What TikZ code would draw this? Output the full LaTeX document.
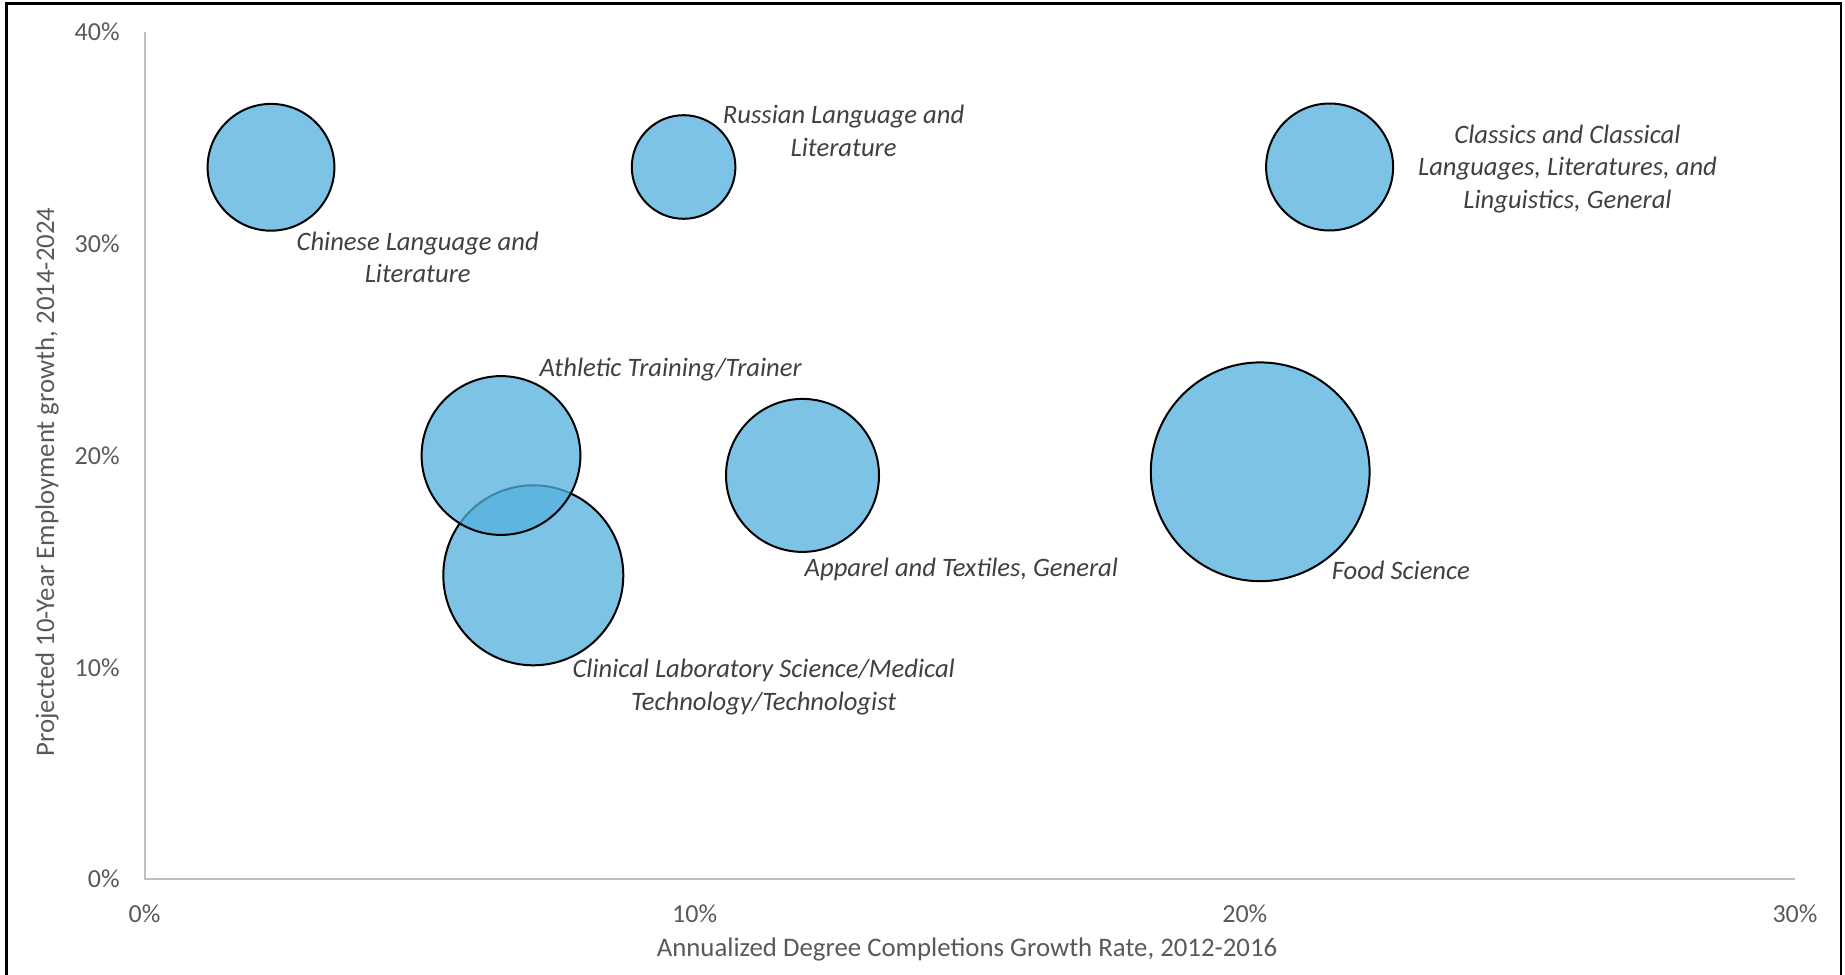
\documentclass[tikz,border=0pt]{standalone}
\usepackage{fontspec}
\setmainfont{Carlito}
\definecolor{bubblefill}{RGB}{84,176,221}
\definecolor{axisgray}{RGB}{191,191,191}
\definecolor{ticktext}{RGB}{89,89,89}
\definecolor{labeltext}{RGB}{64,64,64}
\begin{document}
\begin{tikzpicture}[x=0.5pt,y=-0.5pt,
  bubble/.style={circle, draw=black, line width=1pt, fill=bubblefill, fill opacity=0.76, draw opacity=1, inner sep=0pt},
  blabel/.style={font=\fontsize{13.3pt}{16.2pt}\selectfont\itshape, text=labeltext, align=center, inner sep=0pt},
  ticklab/.style={font=\fontsize{13pt}{15.6pt}\selectfont, text=ticktext, inner sep=0pt},
  axtitle/.style={font=\fontsize{13.4pt}{16pt}\selectfont, text=ticktext, inner sep=0pt},
  axline/.style={draw=axisgray, line width=1pt}]
\useasboundingbox (0,0) rectangle (1845,974);
% frame
\coordinate (fbl) at (6.5,1000);
\coordinate (ftl) at (6.5,3.5);
\coordinate (ftr) at (1841,3.5);
\coordinate (fbr) at (1841,1000);
\draw[line width=1.4pt] (fbl) -- (ftl) -- (ftr) -- (fbr);
% axes
\coordinate (o) at (144.5,879);
\coordinate (ytop) at (144.5,32);
\coordinate (xend) at (1795,879);
\draw[axline] (ytop) -- (o) -- (xend);
% y tick labels
\node[ticklab, anchor=east] (y0) at (120,879) {0\%};
\node[ticklab, anchor=east] (y10) at (120,667.25) {10\%};
\node[ticklab, anchor=east] (y20) at (120,455.5) {20\%};
\node[ticklab, anchor=east] (y30) at (120,243.75) {30\%};
\node[ticklab, anchor=east] (y40) at (120,32) {40\%};
% x tick labels
\node[ticklab] (x0) at (144.5,914) {0\%};
\node[ticklab] (x10) at (694.7,914) {10\%};
\node[ticklab] (x20) at (1244.8,914) {20\%};
\node[ticklab] (x30) at (1795,914) {30\%};
% axis titles
\node[axtitle] (xt) at (967,949) {Annualized Degree Completions Growth Rate, 2012-2016};
\node[axtitle, rotate=90] (yt) at (47,482) {Projected 10-Year Employment growth, 2014-2024};
% bubbles
\node[bubble, minimum size=63.4pt] (chinese) at (271,167.3) {};
\node[bubble, minimum size=51.8pt] (russian) at (683.6,167) {};
\node[bubble, minimum size=63.5pt] (classics) at (1329.6,167) {};
\node[bubble, minimum size=90pt] (clinical) at (533.3,575.3) {};
\node[bubble, minimum size=79.4pt] (athletic) at (501,455.5) {};
\node[bubble, minimum size=76.5pt] (apparel) at (802.5,475.4) {};
\node[bubble, minimum size=109.4pt] (food) at (1260.2,471.8) {};
% labels
\node[blabel] (lchinese) at (417.7,257.5) {Chinese Language and\\Literature};
\node[blabel] (lrussian) at (843.6,131) {Russian Language and\\Literature};
\node[blabel] (lclassics) at (1567.5,169) {Classics and Classical\\Languages, Literatures, and\\Linguistics, General};
\node[blabel] (lathletic) at (670.7,369.5) {Athletic Training/Trainer};
\node[blabel] (lapparel) at (961.3,569.5) {Apparel and Textiles, General};
\node[blabel] (lfood) at (1400.8,570.7) {Food Science};
\node[blabel] (lclinical) at (763.7,687.2) {Clinical Laboratory Science/Medical\\Technology/Technologist};
\end{tikzpicture}
\end{document}
